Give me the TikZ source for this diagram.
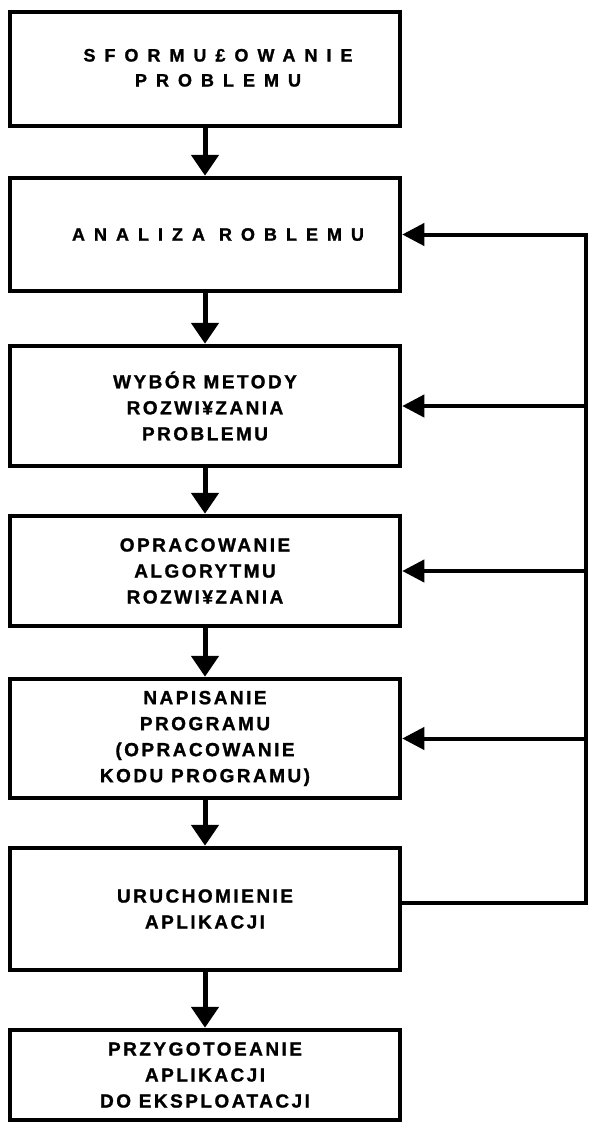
\documentclass[tikz,border=0pt]{standalone}
\usepackage{fontspec}
\setmainfont{Liberation Sans}
\newfontface\widefont{Liberation Sans Bold}[LetterSpace=50, FakeBold=1.2]
\newfontface\boxfont{Liberation Sans Bold}[LetterSpace=13, FakeBold=1.2]
\usetikzlibrary{arrows.meta}

\begin{document}
\begin{tikzpicture}[x=1pt,y=-1pt,
  stepbox/.style={draw, line width=4.5pt, minimum width=390pt, inner sep=0pt,
    align=center, font=\boxfont\fontsize{19pt}{26pt}\selectfont},
  widebox/.style={stepbox, font=\widefont\fontsize{18pt}{25pt}\selectfont},
  flow/.style={line width=5pt, -{Triangle[width=27pt,length=21pt]}},
  back/.style={line width=4pt, line join=miter, -{Triangle[width=22pt,length=22pt]}}]

  % page area
  \fill[white] (0,0) rectangle (589,1125);
  \useasboundingbox (0,0) rectangle (589,1125);

  % the seven stages
  \node[widebox, minimum height=114pt] (b1) at (205,69)
    {\kern26pt\raisebox{-3pt}{\begin{tabular}{@{}c@{}}SFORMU£OWANIE\\PROBLEMU\end{tabular}}};
  \node[widebox, minimum height=113pt] (b2) at (205,234.5)
    {\kern26pt ANALIZA ROBLEMU};
  \node[stepbox, minimum height=120pt] (b3) at (205,406)
    {WYBÓR METODY\\ROZWI¥ZANIA\\PROBLEMU};
  \node[stepbox, minimum height=110pt] (b4) at (205,571)
    {OPRACOWANIE\\ALGORYTMU\\ROZWI¥ZANIA};
  \node[stepbox, minimum height=119pt] (b5) at (205,738.5)
    {NAPISANIE\\PROGRAMU\\(OPRACOWANIE\\KODU PROGRAMU)};
  \node[stepbox, minimum height=122pt] (b6) at (205,909)
    {URUCHOMIENIE\\APLIKACJI};
  \node[stepbox, minimum height=90pt] (b7) at (205,1075)
    {PRZYGOTOEANIE\\APLIKACJI\\DO EKSPLOATACJI};

  % main sequence
  \draw[flow] (b1) -- (b2);
  \draw[flow] (b2) -- (b3);
  \draw[flow] (b3) -- (b4);
  \draw[flow] (b4) -- (b5);
  \draw[flow] (b5) -- (b6);
  \draw[flow] (b6) -- (b7);

  % return path on the right
  \coordinate (rail) at (586,0);
  \draw[back] ([yshift=6pt]b6.east) -| (rail |- b2.east) -- (b2.east);
  \draw[back] (rail |- b3.east) -- (b3.east);
  \draw[back] (rail |- b4.east) -- (b4.east);
  \draw[back] (rail |- b5.east) -- (b5.east);
\end{tikzpicture}
\end{document}
